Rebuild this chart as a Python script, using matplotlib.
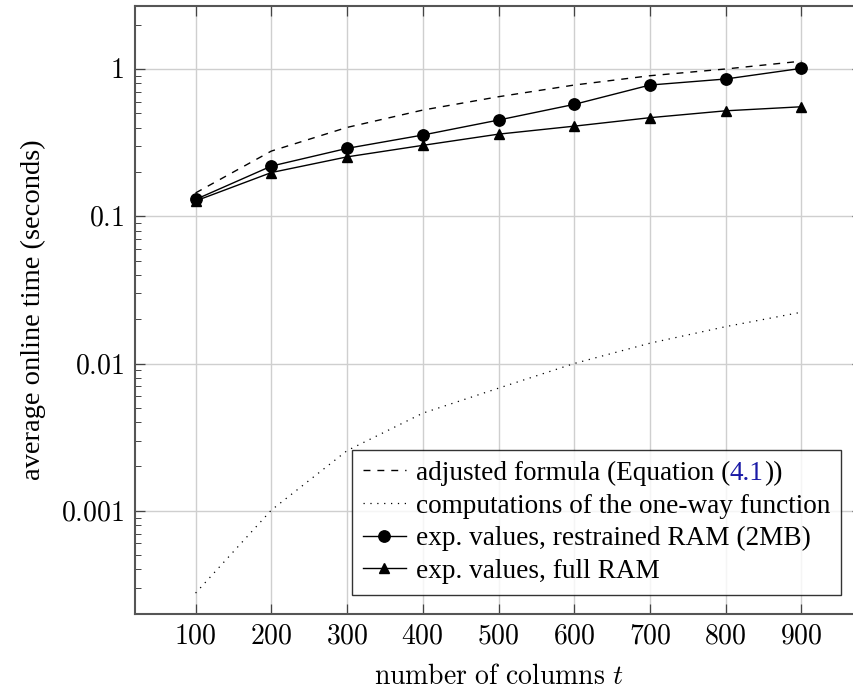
import numpy as np
import matplotlib
matplotlib.use('Agg')
import matplotlib.pyplot as plt
from matplotlib.ticker import FixedLocator, FixedFormatter, LogLocator, NullFormatter

plt.rcParams['font.family'] = ['Liberation Serif', 'DejaVu Serif']
plt.rcParams['mathtext.fontset'] = 'cm'

columns = [100, 200, 300, 400, 500, 600, 700, 800, 900]
adjusted = [0.144, 0.277, 0.401, 0.526, 0.648, 0.778, 0.90, 1.0, 1.13]
oneway = [0.000276, 0.00101, 0.00256, 0.0046, 0.0068, 0.0100, 0.01374, 0.0178, 0.0223]
restrained = [0.130, 0.219, 0.289, 0.356, 0.450, 0.575, 0.778, 0.855, 1.01]
full_ram = [0.127, 0.198, 0.253, 0.303, 0.361, 0.409, 0.467, 0.520, 0.554]

ytick_vals = [0.001, 0.01, 0.1, 1]
ytick_labels = ['0.001', '0.01', '0.1', '1']

tick_fs = 20
leg_fs = 19.6
fig = plt.figure(figsize=(8.54, 6.89), dpi=100)
# axis box runs past the right edge of the picture like in the original
axes = fig.add_axes([135/854, 1-613.7/689, 727/854, 608/689])

axes.plot(columns, adjusted, color='black', lw=1.0, dashes=(5, 5),
          label='adjusted formula (Equation (')
axes.plot(columns, oneway, color='black', lw=0.9, dashes=(1, 4.5),
          label='computations of the one-way function')
axes.plot(columns, restrained, color='black', lw=1.0, marker='o', ms=8.2,
          label='exp. values, restrained RAM (2MB)')
axes.plot(columns, full_ram, color='black', lw=1.0, marker='^', ms=7.5,
          label='exp. values, full RAM')

axes.set_yscale('log')
axes.set_xlim(20, 980)
axes.set_ylim(2.0e-4, 2.69)

axes.xaxis.set_major_locator(FixedLocator(columns))
axes.xaxis.set_major_formatter(FixedFormatter(['$%d$' % c for c in columns]))
axes.yaxis.set_major_locator(FixedLocator(ytick_vals))
axes.yaxis.set_major_formatter(FixedFormatter(['$%s$' % s for s in ytick_labels]))
axes.yaxis.set_minor_locator(LogLocator(base=10, subs=np.arange(2, 10)))
axes.yaxis.set_minor_formatter(NullFormatter())

axes.tick_params(which='both', direction='in', top=True, right=True,
                 labelsize=tick_fs, color='#444444')
axes.tick_params(which='major', length=7, width=0.9, pad=8)
axes.tick_params(which='minor', length=4, width=0.7)
axes.grid(True, which='major', color='#cfcfcf', lw=1.0)
axes.set_axisbelow(True)
for s in axes.spines.values():
    s.set_color('#555555')
    s.set_linewidth(1.5)

axes.set_xlabel(r'$\mathrm{number\ of\ columns}\ t$', fontsize=tick_fs, labelpad=11)
axes.set_ylabel('average online time (seconds)', fontsize=20.5, labelpad=11)

leg = axes.legend(loc='lower right', bbox_to_anchor=(0.971, 0.031),
                  fontsize=leg_fs, frameon=True, fancybox=False, edgecolor='black',
                  handlelength=1.6, handletextpad=0.35, labelspacing=0.28,
                  borderpad=0.4, borderaxespad=0)
leg.get_frame().set_linewidth(1.0)
first = leg.get_texts()[0]
t2 = axes.annotate('4.1', xy=(1, 0), xycoords=first, va='bottom', ha='left',
                   fontsize=leg_fs, color='#1a1aa6', zorder=10)
axes.annotate('))', xy=(1, 0), xycoords=t2, va='bottom', ha='left',
              fontsize=leg_fs, color='black', zorder=10)

fig.savefig('out.png', dpi=100)
